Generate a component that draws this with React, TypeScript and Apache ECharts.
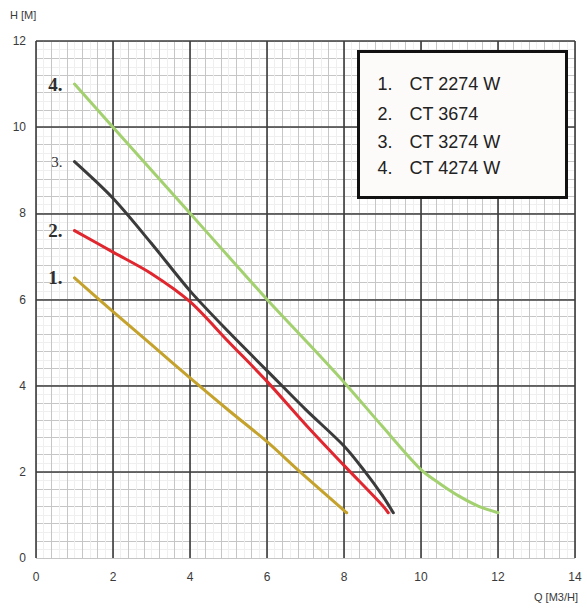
import { useEffect, useRef } from 'react';
import * as echarts from 'echarts';

const xTicks = [0, 2, 4, 6, 8, 10, 12, 14];
const yTicks = [0, 2, 4, 6, 8, 10, 12];

const curveNames = ['CT 2274 W', 'CT 3674', 'CT 3274 W', 'CT 4274 W'];
const curveTags = ['1.', '2.', '3.', '4.'];
const curveColors = ['#c4a22c', '#e0262e', '#3b3b3b', '#a3d16f'];

// Q [m3/h], H [m]
const curve1 = [[1, 6.5], [2, 5.72], [3, 4.95], [4, 4.18], [5, 3.43], [6, 2.7], [6.86, 2.0], [8.07, 1.05]];
const curve2 = [[1, 7.6], [2, 7.1], [3, 6.6], [4, 5.95], [5, 5.02], [6, 4.1], [7, 3.1], [8, 2.15], [9, 1.22], [9.15, 1.05]];
const curve3 = [[1, 9.2], [2, 8.35], [3, 7.3], [4, 6.2], [5, 5.25], [6, 4.35], [7, 3.45], [8, 2.6], [8.55, 2.0], [9, 1.45], [9.28, 1.05]];
const curve4 = [[1, 11], [2, 10], [3, 9], [4, 8], [5, 7], [6, 6], [7, 5.05], [8, 4.08], [9, 3.05], [10, 2.05], [10.5, 1.72], [11, 1.43], [11.5, 1.2], [12, 1.05]];
const curves = [curve1, curve2, curve3, curve4];

const legendRows = [82, 112, 140, 166];

export default function App() {
  const chartRef = useRef<HTMLDivElement | null>(null);

  useEffect(() => {
    const element = chartRef.current;
    if (!element) return;

    const chart = echarts.init(element, null, { renderer: 'svg' });

    // fine grid: 0.4 lines plus 0.2 minor lines, drawn under the main 2-unit grid
    const hiddenAxis = (max: number, position: string) => ({
      type: 'value' as const,
      position,
      min: 0,
      max,
      interval: 0.4,
      z: 0,
      axisLine: { show: false },
      axisTick: { show: false },
      axisLabel: { show: false },
      splitLine: { show: true, lineStyle: { color: '#c6c6c6', width: 1 } },
      minorTick: { show: false, splitNumber: 2 },
      minorSplitLine: { show: true, lineStyle: { color: '#efefef', width: 1 } },
    });

    const labelStyle = {
      color: '#3a3a3a',
      fontSize: 12,
      fontFamily: 'Liberation Sans, Arial, sans-serif',
    };
    const textFont = 'Liberation Sans, Arial, sans-serif';

    chart.setOption({
      animation: false,
      backgroundColor: '#ffffff',
      grid: { left: 36, right: 12, top: 41, bottom: 51 },
      xAxis: [
        hiddenAxis(14, 'bottom'),
        {
          type: 'value',
          position: 'bottom',
          min: xTicks[0],
          max: xTicks[xTicks.length - 1],
          interval: 2,
          z: 1,
          axisLine: { show: false },
          axisTick: { show: false },
          axisLabel: { ...labelStyle, margin: 13 },
          splitLine: { show: true, lineStyle: { color: '#3c3c3c', width: 1.6 } },
        },
      ],
      yAxis: [
        hiddenAxis(12, 'left'),
        {
          type: 'value',
          position: 'left',
          min: yTicks[0],
          max: yTicks[yTicks.length - 1],
          interval: 2,
          z: 1,
          axisLine: { show: false },
          axisTick: { show: false },
          axisLabel: { ...labelStyle, margin: 10 },
          splitLine: { show: true, showMinLine: false, lineStyle: { color: '#3c3c3c', width: 1.6 } },
        },
      ],
      series: curves.map((points, index) => ({
        name: curveNames[index],
        type: 'line',
        xAxisIndex: 1,
        yAxisIndex: 1,
        smooth: 0.3,
        symbol: 'circle',
        symbolSize: 2,
        showSymbol: true,
        showAllSymbol: true,
        z: 3,
        itemStyle: { color: curveColors[index] },
        lineStyle: { color: curveColors[index], width: 3, cap: 'round' },
        data: points.map((point, i) =>
          i === 0
            ? {
                value: point,
                label: {
                  show: true,
                  position: 'left',
                  distance: 11,
                  formatter: curveTags[index],
                  color: '#2e2e2e',
                  fontSize: index === 2 ? 15 : 19,
                  fontWeight: index === 2 ? 'normal' : 'bold',
                  fontFamily: 'Liberation Serif, Times New Roman, serif',
                },
              }
            : point
        ),
      })),
      graphic: [
        {
          type: 'text',
          left: 10,
          top: 9,
          style: { text: 'H [M]', fill: '#3a3a3a', fontSize: 11, fontFamily: textFont },
        },
        {
          type: 'text',
          right: 9,
          top: 591,
          style: { text: 'Q [M3/H]', fill: '#3a3a3a', fontSize: 11, fontFamily: textFont },
        },
        {
          type: 'group',
          left: 357,
          top: 50,
          z: 100,
          children: [
            {
              type: 'rect',
              z: 100,
              shape: { x: 0, y: 0, width: 208, height: 146 },
              style: { fill: '#fdfbf9', stroke: '#111111', lineWidth: 3 },
            },
            ...curveNames.flatMap((name, i) => [
              {
                type: 'text',
                z: 101,
                x: 19,
                y: legendRows[i] - 50,
                style: {
                  text: curveTags[i],
                  fill: '#222222',
                  fontSize: 18,
                  fontFamily: textFont,
                  verticalAlign: 'middle',
                },
              },
              {
                type: 'text',
                z: 101,
                x: 51,
                y: legendRows[i] - 50,
                style: {
                  text: name,
                  fill: '#222222',
                  fontSize: 18,
                  fontFamily: textFont,
                  verticalAlign: 'middle',
                },
              },
            ]),
          ],
        },
      ],
    });

    return () => {
      chart.dispose();
    };
  }, []);

  return (
    <div
      ref={chartRef}
      style={{ position: 'fixed', left: 0, top: 0, width: 587, height: 609 }}
    />
  );
}
